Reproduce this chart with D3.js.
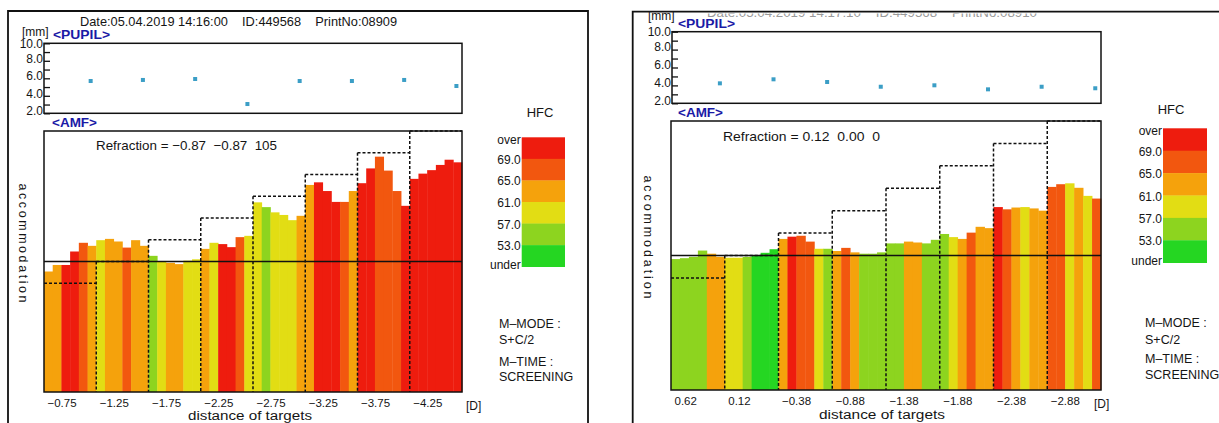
<!DOCTYPE html>
<html><head><meta charset="utf-8">
<script src="https://cdn.jsdelivr.net/npm/d3@7"></script>
<style>
html,body{margin:0;padding:0;background:#fff;overflow:hidden}
svg{display:block}
text{font-family:"Liberation Sans",Arial,sans-serif;fill:#151515;white-space:pre}
</style></head><body>
<svg id="chart" width="1219" height="423"></svg>
<script>
// ---------------- data ----------------
const hfcLegendLabels = ["over","69.0","65.0","61.0","57.0","53.0","under"];
const hfcClasses = ["R","OR","O","Y","YG","G"];           // top (over) -> bottom (under)
const hfcColors  = ["#ee1c0e","#f2570f","#f5a20c","#e2dd14","#8dd41f","#25d622"];
const pupilTickValues = [2,3,4,5,6,7,8,9,10];
const pupilTickLabels = {10:"10.0",8:"8.0",6:"6.0",4:"4.0",2:"2.0"};
const targetSteps = [-0.5,0,0.5,1.0,1.5,2.0,2.5,3.0];
const modeTexts = ["M\u2013MODE :","S+C/2","M\u2013TIME :","SCREENING"];

const leftTargets = ["\u22120.75","\u22121.25","\u22121.75","\u22122.25","\u22122.75","\u22123.25","\u22123.75","\u22124.25"];
const leftAccommodation = [
  -0.23,-0.08,-0.08, 0.23, 0.43, 0.36,
   0.49, 0.52, 0.46, 0.32, 0.49, 0.36,
   0.13, 0.01,-0.03,-0.06, 0.02, 0.05,
   0.29, 0.43, 0.40, 0.33, 0.56, 0.59,
   1.36, 1.25, 1.13, 1.07, 0.95, 1.05,
   1.76, 1.82, 1.62, 1.37, 1.37, 1.62,
   1.80, 2.14, 2.41, 2.09, 1.62, 1.28,
   1.90, 2.02, 2.10, 2.22, 2.34, 2.28];
const leftHfc = [
  "O","O","R","R","OR","O",
  "Y","O","O","OR","O","O",
  "YG","Y","O","O","Y","Y",
  "O","Y","R","R","OR","Y",
  "Y","YG","Y","Y","Y","O",
  "O","R","R","R","OR","O",
  "R","R","OR","OR","OR","R",
  "R","R","R","R","R","R"];
const leftPupil = [5.69,5.81,5.92,3.06,5.69,5.69,5.81,5.12];
const leftRefraction = "Refraction = \u22120.87  \u22120.87  105";
const leftHeader = "Date:05.04.2019 14:16:00    ID:449568    PrintNo:08909";

const rightTargets = ["0.62","0.12","\u22120.38","\u22120.88","\u22121.38","\u22121.88","\u22122.38","\u22122.88"];
const rightAccommodation = [
  -0.08,-0.06,-0.03, 0.11, 0.04,-0.03,
  -0.05,-0.05,-0.03,-0.01, 0.06, 0.14,
   0.37, 0.42, 0.44, 0.31, 0.15, 0.15,
   0.10, 0.17, 0.07, 0.04, 0.04, 0.07,
   0.27, 0.27, 0.31, 0.29, 0.27, 0.35,
   0.48, 0.41, 0.37, 0.51, 0.64, 0.61,
   1.08, 1.03, 1.07, 1.08, 1.05, 1.00,
   1.53, 1.59, 1.61, 1.51, 1.33, 1.27];
const rightHfc = [
  "YG","YG","YG","YG","O","O",
  "Y","Y","YG","G","G","G",
  "O","R","OR","OR","Y","YG",
  "O","OR","O","YG","YG","YG",
  "YG","YG","O","O","YG","YG",
  "YG","Y","O","OR","O","O",
  "R","OR","O","Y","O","O",
  "OR","OR","Y","O","Y","OR"];
const rightPupil = [4.23,4.68,4.38,3.85,4.01,3.56,3.85,3.68];
const rightRefraction = "Refraction = 0.12  0.00  0";
const rightHeader = "Date:05.04.2019 14:17:10    ID:449568    PrintNo:08910";

// ---------------- layout ----------------
const svg = d3.select("#chart");
const color = d3.scaleOrdinal().domain(hfcClasses).range(hfcColors);

const panels = [
 {targets:leftTargets, acc:leftAccommodation, hfc:leftHfc, pupil:leftPupil, refr:leftRefraction, header:leftHeader,
  frame:{x:8,y:11,r:588}, headerPos:{x:80,y:26,len:317,grey:false},
  mm:{x:22,y:36}, pupilLbl:{x:53,y:39}, pbox:{x0:44,x1:462,y0:43.3,y1:113.3},
  amfLbl:{x:52,y:127}, box:{x0:44,x1:462,y0:131,y1:392},
  refrPos:{x:96,y:150,len:181}, accPos:{x:23,y:243,len:119},
  hfcTitle:{x:540,y:117}, legend:{x:521.7,w:43.3,y0:137.3,y1:266.7},
  mode:{x:499,ys:[328,344,366,381]}, xlab:{y:406.5}, xTitle:{x:250,y:420,len:124}, unit:{x:466,y:410}},
 {targets:rightTargets, acc:rightAccommodation, hfc:rightHfc, pupil:rightPupil, refr:rightRefraction, header:rightHeader,
  frame:{x:632.7,y:11.7,r:1240}, headerPos:{x:707,y:17,len:330,grey:true},
  mm:{x:648,y:20}, pupilLbl:{x:678,y:28}, pbox:{x0:672,x1:1101,y0:31.7,y1:103.3},
  amfLbl:{x:678,y:117}, box:{x0:671,x1:1101,y0:121,y1:390},
  refrPos:{x:723,y:141,len:157}, accPos:{x:648.3,y:237,len:123},
  hfcTitle:{x:1171,y:114}, legend:{x:1163,w:44,y0:128.3,y1:262.7},
  mode:{x:1145,ys:[327,344,363,379]}, xlab:{y:405}, xTitle:{x:882,y:419,len:126}, unit:{x:1094,y:408}}
];

const defs = svg.append("defs");
defs.append("clipPath").attr("id","hdrclip").append("rect")
  .attr("x",0).attr("y",13.5).attr("width",1219).attr("height",20);

panels.forEach(p => {
  const g = svg.append("g");
  // header
  const h = g.append("text").attr("x",p.headerPos.x).attr("y",p.headerPos.y)
    .attr("font-size",13).attr("textLength",p.headerPos.len).attr("lengthAdjust","spacingAndGlyphs")
    .text(p.header);
  if (p.headerPos.grey) h.attr("fill","#9a9a9a").style("fill","#9a9a9a").attr("clip-path","url(#hdrclip)");

  // outer frame
  g.append("path").attr("d",`M${p.frame.x},440V${p.frame.y}H${p.frame.r}V440`)
    .attr("fill","none").attr("stroke","#111").attr("stroke-width",1.8);

  // ----- pupil plot -----
  const pb = p.pbox;
  const xSegP = d3.scaleBand().domain(p.targets).range([pb.x0,pb.x1]);
  const yP = d3.scaleLinear().domain([2,10]).range([pb.y1,pb.y0]);
  g.append("text").attr("x",p.mm.x).attr("y",p.mm.y).attr("font-size",12).text("[mm]");
  g.append("text").attr("x",p.pupilLbl.x).attr("y",p.pupilLbl.y).attr("font-size",12)
    .attr("font-weight","bold").style("fill","#1a1aa6").attr("textLength",57).attr("lengthAdjust","spacingAndGlyphs").text("<PUPIL>");
  const ax = g.append("g").attr("transform",`translate(${pb.x0},0)`)
    .call(d3.axisLeft(yP).tickValues(pupilTickValues).tickSizeInner(-6).tickSizeOuter(0).tickPadding(1)
      .tickFormat(d => pupilTickLabels[d] || ""));
  ax.select(".domain").remove();
  ax.selectAll(".tick line").attr("stroke","#111").attr("stroke-width",1.3);
  ax.selectAll(".tick text").attr("font-size",12).attr("font-family","Liberation Sans, Arial, sans-serif")
    .attr("fill","#151515").attr("dy",d => d===10 ? "0.32em" : "0.1em");
  g.append("rect").attr("x",pb.x0).attr("y",pb.y0).attr("width",pb.x1-pb.x0).attr("height",pb.y1-pb.y0)
    .attr("fill","none").attr("stroke","#111").attr("stroke-width",1.5);
  g.selectAll(".pdot").data(p.pupil).join("rect")
    .attr("x",(d,i)=> xSegP(p.targets[i]) + xSegP.bandwidth()*0.893 - 2)
    .attr("y",d=> yP(d)-2).attr("width",4).attr("height",4).attr("fill","#3b9ec6");

  // ----- AMF plot -----
  const b = p.box;
  g.append("text").attr("x",p.amfLbl.x).attr("y",p.amfLbl.y).attr("font-size",12)
    .attr("font-weight","bold").style("fill","#1a1aa6").attr("textLength",45).attr("lengthAdjust","spacingAndGlyphs").text("<AMF>");
  const xSeg = d3.scaleBand().domain(p.targets).range([b.x0,b.x1]);
  const xIn = d3.scaleLinear().domain([0,6]).range([0,xSeg.bandwidth()]);
  const y = d3.scaleLinear().domain([-3,3]).range([b.y1,b.y0]);
  const bars = p.acc.map((v,i)=>({v, c:p.hfc[i], seg:p.targets[Math.floor(i/6)], k:i%6}));
  g.selectAll(".bar").data(bars).join("rect")
    .attr("x",d=> xSeg(d.seg)+xIn(d.k)).attr("width",xIn(1)+0.4)
    .attr("y",d=> y(d.v)).attr("height",d=> y(-3)-y(d.v))
    .attr("fill",d=> color(d.c));
  // zero line
  g.append("line").attr("x1",b.x0).attr("x2",b.x1).attr("y1",y(0)).attr("y2",y(0))
    .attr("stroke","#111").attr("stroke-width",1.6);
  // target staircase
  p.targets.forEach((t,k)=>{
    g.append("line").attr("x1",xSeg(t)).attr("x2",xSeg(t)+xSeg.bandwidth())
      .attr("y1",y(targetSteps[k])).attr("y2",y(targetSteps[k]))
      .attr("stroke","#111").attr("stroke-width",1.5).attr("stroke-dasharray","3,2");
    if (k>0) g.append("line").attr("x1",xSeg(t)).attr("x2",xSeg(t))
      .attr("y1",y(targetSteps[k])).attr("y2",y(-3))
      .attr("stroke","#111").attr("stroke-width",1.5).attr("stroke-dasharray","3,2");
  });
  g.append("rect").attr("x",b.x0).attr("y",b.y0).attr("width",b.x1-b.x0).attr("height",b.y1-b.y0)
    .attr("fill","none").attr("stroke","#111").attr("stroke-width",1.5);
  g.append("text").attr("x",p.refrPos.x).attr("y",p.refrPos.y).attr("font-size",13)
    .attr("textLength",p.refrPos.len).attr("lengthAdjust","spacingAndGlyphs").text(p.refr);
  g.append("text").attr("transform",`translate(${p.accPos.x},${p.accPos.y}) rotate(90)`)
    .attr("text-anchor","middle").attr("dy","0.35em").attr("font-size",12.5)
    .attr("textLength",p.accPos.len).attr("lengthAdjust","spacing").text("accommodation");
  // x labels
  g.selectAll(".xl").data(p.targets).join("text")
    .attr("x",d=> xSeg(d)+3.5).attr("y",p.xlab.y).attr("font-size",11.5).text(d=>d);
  g.append("text").attr("x",p.xTitle.x).attr("y",p.xTitle.y).attr("text-anchor","middle").attr("font-size",12)
    .attr("textLength",p.xTitle.len).attr("lengthAdjust","spacingAndGlyphs").text("distance of targets");
  g.append("text").attr("x",p.unit.x).attr("y",p.unit.y).attr("font-size",12).text("[D]");

  // ----- HFC legend -----
  const L = p.legend;
  const yL = d3.scaleLinear().domain([0,6]).range([L.y0,L.y1]);
  g.append("text").attr("x",p.hfcTitle.x).attr("y",p.hfcTitle.y).attr("text-anchor","middle")
    .attr("font-size",13).text("HFC");
  g.selectAll(".band").data(hfcClasses).join("rect")
    .attr("x",L.x).attr("width",L.w).attr("y",(d,i)=> yL(i)).attr("height",yL(1)-yL(0)+0.3)
    .attr("fill",d=> color(d));
  g.selectAll(".ll").data(hfcLegendLabels).join("text")
    .attr("x",L.x-1).attr("text-anchor","end").attr("font-size",12)
    .attr("y",(d,i)=> i===0 ? yL(0)+7 : (i===6 ? yL(6)+2 : yL(i)+5)).text(d=>d);

  // mode texts
  modeTexts.forEach((t,i)=>{
    g.append("text").attr("x",p.mode.x).attr("y",p.mode.ys[i]).attr("font-size",12.5).text(t);
  });
});
</script>
</body></html>
